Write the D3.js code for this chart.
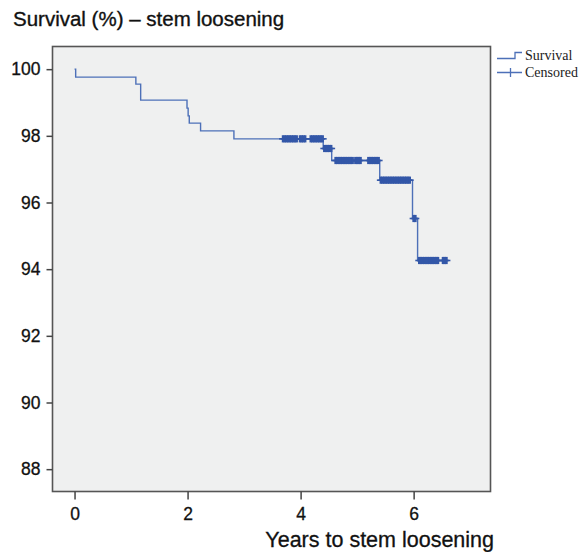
<!DOCTYPE html>
<html>
<head>
<meta charset="utf-8">
<script src="https://cdn.jsdelivr.net/npm/d3@7"></script>
<style>
  body { margin: 0; background: #fff; }
  svg { display: block; }
</style>
</head>
<body>
<svg></svg>
<script>
// Kaplan-Meier steps: event times and survival (%) after each event
const stepTimes = [0, 0.02, 1.085, 1.17, 1.99, 2.01, 2.03, 2.23, 2.82, 4.40, 4.55, 5.40, 5.98, 6.07];
const stepSurvival = [100, 99.76, 99.55, 99.07, 98.83, 98.60, 98.38, 98.15, 97.91, 97.62, 97.26, 96.67, 95.52, 94.26];
const lastFollowUp = 6.60;

// censored cases (years)
const censoredTimes = [
  3.69, 3.72, 3.75, 3.78, 3.81, 3.84, 3.87, 3.90, 3.93,
  3.99, 4.02, 4.05, 4.08,
  4.18, 4.21, 4.24, 4.27, 4.30, 4.33, 4.36, 4.39,
  4.42, 4.45, 4.48, 4.51, 4.54,
  4.62, 4.65, 4.68, 4.71, 4.74, 4.77, 4.80, 4.83, 4.86, 4.89, 4.92,
  4.97, 5.00, 5.03, 5.06,
  5.20, 5.23, 5.26, 5.29, 5.32, 5.35, 5.38,
  5.42, 5.45, 5.48, 5.51, 5.54, 5.57, 5.60, 5.63, 5.66, 5.69, 5.72, 5.75, 5.78, 5.81, 5.84, 5.87, 5.90, 5.93,
  6.00, 6.03,
  6.10, 6.13, 6.16, 6.19, 6.22, 6.25, 6.28, 6.31, 6.34, 6.37, 6.40, 6.43,
  6.52, 6.55, 6.58
];

const xTicks = [0, 2, 4, 6];
const yTicks = [88, 90, 92, 94, 96, 98, 100];
const legendLabels = ["Survival", "Censored"];

const width = 582, height = 552;
const plotLeft = 52.5, plotRight = 490.5, plotTop = 46.5, plotBottom = 491.5;
const lineColor = "#4d70b8", markColor = "#3357a8";
const sans = "'Liberation Sans', Arial, sans-serif";

const svg = d3.select("svg").attr("width", width).attr("height", height);

const x = d3.scaleLinear().domain([-0.39, 7.36]).range([plotLeft, plotRight]);
const y = d3.scaleLinear().domain([87.33, 100.68]).range([plotBottom, plotTop]);

// plot background + frame
svg.append("rect")
    .attr("x", plotLeft).attr("y", plotTop)
    .attr("width", plotRight - plotLeft).attr("height", plotBottom - plotTop)
    .attr("fill", "#eff0f0")
    .attr("stroke", "#555")
    .attr("stroke-width", 1.6);

// survival at a given time
function survivalAt(t) {
    let s = stepSurvival[0];
    for (let i = 0; i < stepTimes.length; i++) {
        if (stepTimes[i] <= t) s = stepSurvival[i];
    }
    return s;
}

const curve = stepTimes.map((t, i) => [t, stepSurvival[i]]);
curve.push([lastFollowUp, stepSurvival[stepSurvival.length - 1]]);

svg.append("path")
    .datum(curve)
    .attr("fill", "none")
    .attr("stroke", lineColor)
    .attr("stroke-width", 1.4)
    .attr("d", d3.line().x(d => x(d[0])).y(d => y(d[1])).curve(d3.curveStepAfter));

// censor marks
const marks = svg.append("g").attr("class", "censored")
    .selectAll("g")
    .data(censoredTimes)
    .enter()
    .append("g")
    .attr("transform", d => `translate(${x(d)},${y(survivalAt(d))})`);

marks.append("line")
    .attr("x1", -4).attr("x2", 4)
    .attr("stroke", markColor).attr("stroke-width", 1.6);
marks.append("line")
    .attr("y1", -3.6).attr("y2", 3.6)
    .attr("stroke", markColor).attr("stroke-width", 2.6);

// axes
const yAxis = svg.append("g")
    .attr("transform", `translate(${plotLeft},0)`)
    .call(d3.axisLeft(y).tickValues(yTicks).tickSize(6).tickPadding(6));

const xAxis = svg.append("g")
    .attr("transform", `translate(0,${plotBottom})`)
    .call(d3.axisBottom(x).tickValues(xTicks).tickSize(8).tickPadding(8));

[yAxis, xAxis].forEach(a => {
    a.select(".domain").remove();
    a.selectAll(".tick line").attr("stroke", "#444").attr("stroke-width", 1.5);
    a.selectAll(".tick text")
        .attr("fill", "#111")
        .attr("stroke", "#111")
        .attr("stroke-width", 0.3)
        .style("font-family", sans)
        .style("font-size", "17.5px");
});

// titles
svg.append("text")
    .attr("x", 13).attr("y", 26)
    .style("font-family", sans)
    .style("font-size", "20.5px")
    .attr("fill", "#111")
    .attr("stroke", "#111")
    .attr("stroke-width", 0.35)
    .text("Survival (%) – stem loosening");

svg.append("text")
    .attr("x", 494).attr("y", 547)
    .attr("text-anchor", "end")
    .style("font-family", sans)
    .style("font-size", "21.5px")
    .attr("fill", "#111")
    .attr("stroke", "#111")
    .attr("stroke-width", 0.3)
    .text("Years to stem loosening");

// legend
const legend = svg.append("g").attr("class", "legend");
legend.append("path")
    .attr("d", "M497,58.5H515V52.5H522")
    .attr("fill", "none").attr("stroke", lineColor).attr("stroke-width", 1.3);
legend.append("path")
    .attr("d", "M497,72.5H522M510.5,68V77")
    .attr("fill", "none").attr("stroke", lineColor).attr("stroke-width", 1.3);
legend.selectAll("text")
    .data(legendLabels)
    .enter()
    .append("text")
    .attr("x", 525)
    .attr("y", (d, i) => 60 + i * 17)
    .style("font-family", "'Liberation Serif', 'Times New Roman', serif")
    .style("font-size", "14px")
    .attr("fill", "#222")
    .text(d => d);
</script>
</body>
</html>
